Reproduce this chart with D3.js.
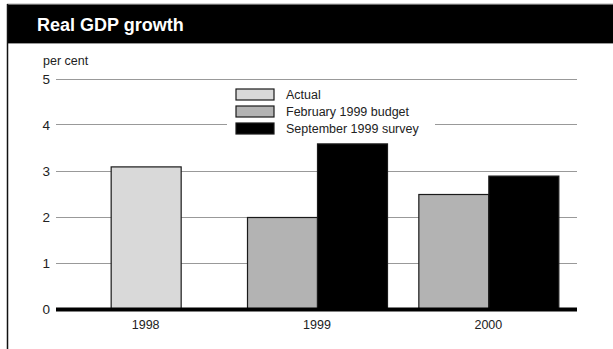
<!DOCTYPE html>
<html>
<head>
<meta charset="utf-8">
<script src="https://cdn.jsdelivr.net/npm/d3@7"></script>
<style>
  html, body { margin: 0; padding: 0; background: #fff; }
  svg { display: block; }
  text { font-family: "Liberation Sans", Arial, sans-serif; }
</style>
</head>
<body>
<svg id="chart" width="613" height="349"></svg>
<script>
// Real GDP growth, per cent
const years = ["1998", "1999", "2000"];
const seriesNames = ["Actual", "February 1999 budget", "September 1999 survey"];
const actual = [3.1, null, null];
const febBudget = [null, 2.0, 2.5];
const septSurvey = [null, 3.6, 2.9];
const yTicks = [0, 1, 2, 3, 4, 5];
const fills = ["#d9d9d9", "#b3b3b3", "#000000"];

const svg = d3.select("#chart");
const W = 613, H = 349;
const plotLeft = 56, plotRight = 577;

// frame and title band
svg.append("line").attr("x1", 7).attr("x2", W).attr("y1", 4).attr("y2", 4)
  .attr("stroke", "#aaa").attr("stroke-width", 1);
svg.append("rect").attr("x", 7).attr("y", 4.5).attr("width", W - 7).attr("height", 39)
  .attr("fill", "#000");
svg.append("line").attr("x1", 7).attr("x2", W).attr("y1", 43.5).attr("y2", 43.5)
  .attr("stroke", "#999").attr("stroke-width", 1);
svg.append("line").attr("x1", 7.5).attr("x2", 7.5).attr("y1", 4).attr("y2", H)
  .attr("stroke", "#111").attr("stroke-width", 1.5);
svg.append("text").attr("x", 37).attr("y", 31)
  .attr("fill", "#fff").attr("font-size", 18).attr("font-weight", "bold")
  .text("Real GDP growth");

svg.append("text").attr("x", 43).attr("y", 64.5)
  .attr("font-size", 12.5).attr("fill", "#222").text("per cent");

// scales
const y = d3.scaleLinear().domain([0, 5]).range([309.5, 79.5]);
const x = d3.scaleBand().domain(years).range([60, 574]).padding(0);
const barW = 70;

// gridlines
svg.append("g").selectAll("line")
  .data(yTicks.filter(t => t > 0))
  .join("line")
  .attr("x1", plotLeft).attr("x2", plotRight)
  .attr("y1", d => Math.round(y(d)) - 0.5).attr("y2", d => Math.round(y(d)) - 0.5)
  .attr("stroke", "#999").attr("stroke-width", 1);

// y axis labels
const yAxis = svg.append("g").attr("transform", `translate(${plotLeft},0)`)
  .call(d3.axisLeft(y).tickValues(yTicks).tickSize(0).tickPadding(6).tickFormat(d3.format("d")));
yAxis.select(".domain").remove();
yAxis.selectAll("text").attr("font-size", 13.5).attr("fill", "#222")
  .style("font-family", "Liberation Sans, Arial, sans-serif");

// bars
const rows = years.map((yr, i) => {
  const vals = [actual[i], febBudget[i], septSurvey[i]]
    .map((v, s) => ({ year: yr, s, v }))
    .filter(d => d.v !== null);
  const center = x(yr) + x.bandwidth() / 2;
  vals.forEach((d, k) => { d.x0 = center - (vals.length * barW) / 2 + k * barW; });
  return vals;
}).flat();

svg.append("g").selectAll("rect")
  .data(rows)
  .join("rect")
  .attr("x", d => d.x0 + 0.5)
  .attr("y", d => y(d.v))
  .attr("width", barW)
  .attr("height", d => y(0) - y(d.v))
  .attr("fill", d => fills[d.s])
  .attr("stroke", "#1a1a1a").attr("stroke-width", 1.2);

// zero line
svg.append("line").attr("x1", plotLeft).attr("x2", plotRight)
  .attr("y1", y(0)).attr("y2", y(0))
  .attr("stroke", "#000").attr("stroke-width", 4);

// x axis labels
const xAxis = svg.append("g").attr("transform", `translate(0,${y(0)})`)
  .call(d3.axisBottom(x).tickSize(0).tickPadding(11));
xAxis.select(".domain").remove();
xAxis.selectAll("text").attr("font-size", 12.5).attr("fill", "#222")
  .style("font-family", "Liberation Sans, Arial, sans-serif");

// legend
const legend = svg.append("g");
legend.append("rect").attr("x", 227).attr("y", 84).attr("width", 208).attr("height", 56)
  .attr("fill", "#fff");
seriesNames.forEach((name, i) => {
  const top = 89 + i * 17;
  legend.append("rect").attr("x", 236).attr("y", top).attr("width", 38).attr("height", 11)
    .attr("fill", fills[i]).attr("stroke", "#1a1a1a").attr("stroke-width", 1.2);
  legend.append("text").attr("x", 286).attr("y", top + 10)
    .attr("font-size", 12.5).attr("fill", "#222").text(name);
});
</script>
</body>
</html>
